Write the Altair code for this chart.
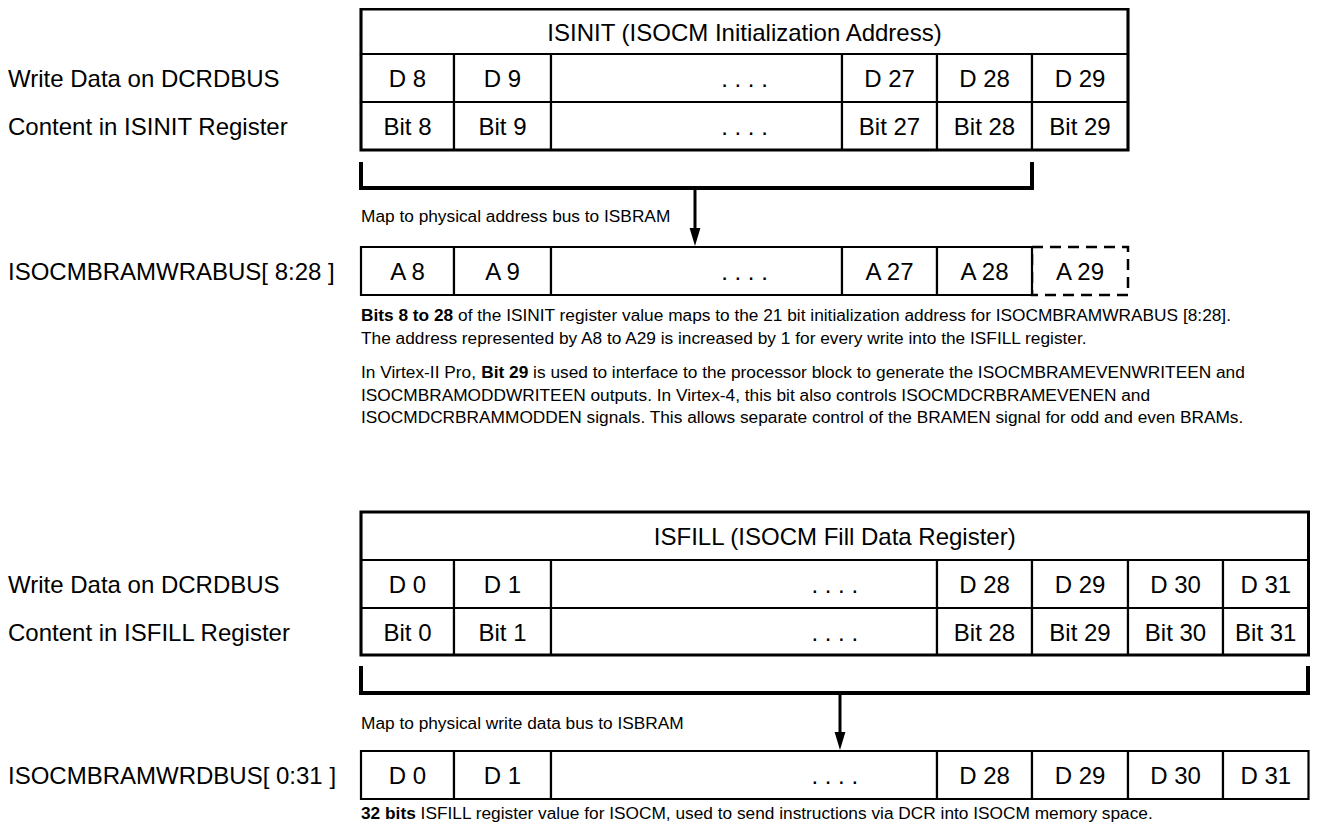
import altair as alt
import pandas as pd

# ------------------------------------------------------------------ content
top_title = "ISINIT (ISOCM Initialization Address)"
top_data_labels = ["D 8", "D 9", ". . . .", "D 27", "D 28", "D 29"]
top_bit_labels = ["Bit 8", "Bit 9", ". . . .", "Bit 27", "Bit 28", "Bit 29"]
top_bus_labels = ["A 8", "A 9", ". . . .", "A 27", "A 28", "A 29"]
top_bus_dashed = [False, False, False, False, False, True]
top_row_names = ["Write Data on DCRDBUS", "Content in ISINIT Register", "ISOCMBRAMWRABUS[ 8:28 ]"]
top_map_text = "Map to physical address bus to ISBRAM"
top_notes = [
    [("Bits 8 to 28", True), (" of the ISINIT register value maps to the 21 bit initialization address for ISOCMBRAMWRABUS [8:28].", False)],
    [("The address represented by A8 to A29 is increased by 1 for every write into the ISFILL register.", False)],
    [("In Virtex-II Pro, ", False), ("Bit 29", True), (" is used to interface to the processor block to generate the ISOCMBRAMEVENWRITEEN and", False)],
    [("ISOCMBRAMODDWRITEEN outputs. In Virtex-4, this bit also controls ISOCMDCRBRAMEVENEN and", False)],
    [("ISOCMDCRBRAMMODDEN signals. This allows separate control of the BRAMEN signal for odd and even BRAMs.", False)],
]

bot_title = "ISFILL (ISOCM Fill Data Register)"
bot_data_labels = ["D 0", "D 1", ". . . .", "D 28", "D 29", "D 30", "D 31"]
bot_bit_labels = ["Bit 0", "Bit 1", ". . . .", "Bit 28", "Bit 29", "Bit 30", "Bit 31"]
bot_bus_labels = ["D 0", "D 1", ". . . .", "D 28", "D 29", "D 30", "D 31"]
bot_bus_dashed = [False] * 7
bot_row_names = ["Write Data on DCRDBUS", "Content in ISFILL Register", "ISOCMBRAMWRDBUS[ 0:31 ]"]
bot_map_text = "Map to physical write data bus to ISBRAM"
bot_notes = [
    [("32 bits", True), (" ISFILL register value for ISOCM, used to send instructions via DCR into ISOCM memory space.", False)],
]

# ------------------------------------------------------------------ layout (page pixels)
X0, Y0, X1, Y1 = 8, 8, 1310, 822          # visible drawing area of the page
FONT = "Liberation Sans, Arial, Helvetica, sans-serif"
BIG, SMALL = 24, 17.3

top_layout = dict(cols=[361, 454, 551, 842, 937, 1032, 1128], rows=[9, 54, 102, 150],
                  bracket=(361, 1032, 164, 188), arrow_x=695, bus=(247, 295),
                  map_y=217, note_y=[316, 339, 373, 396, 418])
bot_layout = dict(cols=[361, 454, 551, 937, 1032, 1128, 1223, 1308.5], rows=[512, 560, 608, 655],
                  bracket=(361, 1308, 668, 693), arrow_x=840, bus=(751, 799),
                  map_y=724, note_y=[814])

REG = {' ': 278, ',': 278, '-': 333, '.': 278, 'I': 278, 'P': 667, 'V': 667, 'n': 556,
       'i': 222, 'r': 333, 't': 278, 'e': 556, 'x': 500, 'o': 556, 's': 500}
BOLD = {' ': 278, 'B': 722, 'i': 278, 't': 333, 's': 556, 'o': 611, 'b': 611}


def text_width(s, bold):
    tab = BOLD if bold else REG
    return sum(tab.get(c, 556) for c in s) / 1000.0 * SMALL


cells, dashed, texts, lines, heads = [], [], [], [], []


def build(title, data_labels, bit_labels, bus_labels, bus_dashed, row_names,
          map_text, notes, L, key):
    cols, rows = L["cols"], L["rows"]
    cx_all = (cols[0] + cols[-1]) / 2
    cells.append(dict(x0=cols[0], x1=cols[-1], y0=rows[0], y1=rows[1]))
    texts.append(dict(x=cx_all, y=(rows[0] + rows[1]) / 2, t=title, size=BIG, w="normal", a="center"))
    for r, labels in ((1, data_labels), (2, bit_labels)):
        for i, lab in enumerate(labels):
            cells.append(dict(x0=cols[i], x1=cols[i + 1], y0=rows[r], y1=rows[r + 1]))
            cx = cx_all if lab.startswith(".") else (cols[i] + cols[i + 1]) / 2
            texts.append(dict(x=cx, y=(rows[r] + rows[r + 1]) / 2, t=lab, size=BIG, w="normal", a="center"))
    b0, b1 = L["bus"]
    for i, lab in enumerate(bus_labels):
        rec = dict(x0=cols[i], x1=cols[i + 1], y0=b0, y1=b1)
        (dashed if bus_dashed[i] else cells).append(rec)
        cx = cx_all if lab.startswith(".") else (cols[i] + cols[i + 1]) / 2
        texts.append(dict(x=cx, y=(b0 + b1) / 2, t=lab, size=BIG, w="normal", a="center"))
    ys = [(rows[1] + rows[2]) / 2, (rows[2] + rows[3]) / 2, (b0 + b1) / 2]
    for nm, yy in zip(row_names, ys):
        texts.append(dict(x=8, y=yy, t=nm, size=BIG, w="normal", a="left"))
    bx0, bx1, by0, by1 = L["bracket"]
    for j, (px, py) in enumerate([(bx0, by0), (bx0, by1), (bx1, by1), (bx1, by0)]):
        lines.append(dict(g=key + "br", o=j, x=px, y=py))
    ax = L["arrow_x"]
    lines.append(dict(g=key + "ar", o=0, x=ax, y=by1))
    lines.append(dict(g=key + "ar", o=1, x=ax, y=b0 - 14))
    heads.append(dict(x=ax, y=b0 - 10))
    texts.append(dict(x=cols[0], y=L["map_y"], t=map_text, size=SMALL, w="normal", a="left"))
    for segs, yy in zip(notes, L["note_y"]):
        x = cols[0]
        for s, bold in segs:
            lead = len(s) - len(s.lstrip(" "))
            x += text_width(" " * lead, bold)
            body = s.strip(" ")
            texts.append(dict(x=x, y=yy, t=body, size=SMALL, w="bold" if bold else "normal", a="left"))
            x += text_width(body, bold) + text_width(" " * (len(s) - len(s.rstrip(" "))), bold)


build(top_title, top_data_labels, top_bit_labels, top_bus_labels, top_bus_dashed,
      top_row_names, top_map_text, top_notes, top_layout, "t")
build(bot_title, bot_data_labels, bot_bit_labels, bot_bus_labels, bot_bus_dashed,
      bot_row_names, bot_map_text, bot_notes, bot_layout, "b")

outer = []
for L in (top_layout, bot_layout):
    outer.append(dict(x0=L["cols"][0], x1=L["cols"][-1], y0=L["rows"][0], y1=L["rows"][-1]))

cells_df = pd.DataFrame(cells)
dashed_df = pd.DataFrame(dashed)
outer_df = pd.DataFrame(outer)
texts_df = pd.DataFrame(texts)
lines_df = pd.DataFrame(lines)
heads_df = pd.DataFrame(heads)

xs = alt.Scale(domain=[X0, X1], nice=False, zero=False)
ys = alt.Scale(domain=[Y0, Y1], nice=False, zero=False, reverse=True)
X = lambda f: alt.X(f, type="quantitative", scale=xs, axis=None)
Y = lambda f: alt.Y(f, type="quantitative", scale=ys, axis=None)

dash_layer = alt.Chart(dashed_df).mark_rect(fill="white", stroke="black", strokeWidth=2.5,
                                            strokeDash=[11, 7]).encode(
    x=X("x0"), x2="x1", y=Y("y0"), y2="y1")
cell_layer = alt.Chart(cells_df).mark_rect(fill="white", stroke="black", strokeWidth=2.2).encode(
    x=X("x0"), x2="x1", y=Y("y0"), y2="y1")
outer_layer = alt.Chart(outer_df).mark_rect(fill=None, filled=False, stroke="black", strokeWidth=3).encode(
    x=X("x0"), x2="x1", y=Y("y0"), y2="y1")
bracket_layer = alt.Chart(lines_df[lines_df["g"].str.endswith("br")]).mark_line(
    color="black", strokeWidth=4, strokeJoin="miter", strokeCap="square").encode(
    x=X("x"), y=Y("y"), detail="g:N", order="o:Q")
arrow_layer = alt.Chart(lines_df[lines_df["g"].str.endswith("ar")]).mark_line(
    color="black", strokeWidth=3).encode(
    x=X("x"), y=Y("y"), detail="g:N", order="o:Q")
head_layer = alt.Chart(heads_df).mark_point(
    shape="M-0.6,-1L0.6,-1L0,1Z", size=324, filled=True, fill="black",
    strokeWidth=0, opacity=1).encode(x=X("x"), y=Y("y"))


def text_layer(df, align, weight, dy):
    sub = df[(df["a"] == align) & (df["w"] == weight)]
    return alt.Chart(sub).mark_text(align=align, baseline="middle", font=FONT, dy=dy,
                                    fontWeight=weight, color="black").encode(
        x=X("x"), y=Y("y"), text="t:N",
        size=alt.Size("size:Q", scale=None, legend=None))


big_df = texts_df[texts_df["size"] == BIG]
small_df = texts_df[texts_df["size"] == SMALL]

chart = alt.layer(
    dash_layer, cell_layer, outer_layer, bracket_layer, arrow_layer, head_layer,
    text_layer(big_df, "center", "normal", 2),
    text_layer(big_df, "left", "normal", 2),
    text_layer(small_df, "left", "normal", 0),
    text_layer(small_df, "left", "bold", 0),
).properties(
    width=X1 - X0, height=Y1 - Y0, padding=0, autosize=alt.AutoSizeParams(type="none")
).configure_view(stroke=None)

chart.save("out.html", embed_options={"renderer": "svg", "actions": False})
